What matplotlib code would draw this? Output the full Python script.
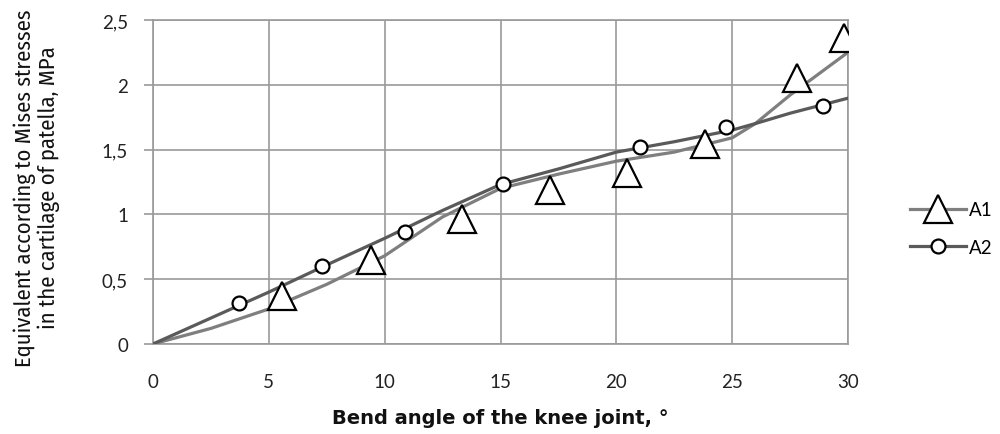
import matplotlib
matplotlib.use("Agg")
import matplotlib.pyplot as plt
from matplotlib.lines import Line2D
from matplotlib import font_manager

# Smooth curve values
line_x = [0, 2.5, 5, 7.5, 10, 12.5, 15, 17.5, 20, 22.5, 25, 26, 27.5, 30]
a1_line = [0, 0.12, 0.27, 0.46, 0.68, 0.98, 1.20, 1.31, 1.41, 1.48, 1.59, 1.70, 1.92, 2.25]
a2_line = [0, 0.20, 0.40, 0.61, 0.815, 1.03, 1.23, 1.35, 1.48, 1.56, 1.65, 1.70, 1.78, 1.896]

# Marker points
a1_x = [5.57, 9.40, 13.35, 17.15, 20.48, 23.84, 27.82, 29.81]
a1_y = [0.37, 0.648, 0.965, 1.188, 1.316, 1.539, 2.049, 2.361]
a2_x = [3.73, 7.29, 10.89, 15.11, 21.01, 24.75, 28.93]
a2_y = [0.316, 0.60, 0.867, 1.235, 1.518, 1.672, 1.839]

x_ticks = [0, 5, 10, 15, 20, 25, 30]
y_ticks = [0, 0.5, 1, 1.5, 2, 2.5]
y_tick_labels = ["0", "0,5", "1", "1,5", "2", "2,5"]

c1 = "#7f7f7f"
c2 = "#5a5a5a"

names = {f.name for f in font_manager.fontManager.ttflist}
ylab_font = next((n for n in ["Fira Sans Condensed", "IBM Plex Sans Condensed",
                              "Asap Condensed", "Archivo Narrow"] if n in names), "Open Sans")

fig = plt.figure(figsize=(10, 4.35), dpi=100)
ax = fig.add_axes([0.153, 0.207, 0.695, 0.745])

ax.plot(line_x, a1_line, color=c1, lw=2.3, zorder=3)
ax.plot(line_x, a2_line, color=c2, lw=2.3, zorder=3)
ax.plot(a1_x, a1_y, ls="none", marker="^", ms=20, mfc="white", mec="black", mew=1.6, zorder=4)
ax.plot(a2_x, a2_y, ls="none", marker="o", ms=10, mfc="white", mec="black", mew=1.6, zorder=4)

ax.set_xlim(0, 30)
ax.set_ylim(0, 2.5)
ax.set_xticks(x_ticks)
ax.set_yticks(y_ticks)
ax.set_yticklabels(y_tick_labels)
ax.grid(True, color="#9a9a9a", lw=1.2)
ax.set_axisbelow(True)
for s in ax.spines.values():
    s.set_color("#9a9a9a")
    s.set_linewidth(1.2)
ax.tick_params(axis="y", length=6.5, width=1.2, color="#9a9a9a", pad=11.5, labelsize=13.5, labelcolor="#222222")
ax.tick_params(axis="x", length=0, pad=21, labelsize=13.5, labelcolor="#222222")
for lab in ax.get_xticklabels() + ax.get_yticklabels():
    lab.set_family("Lato")

ax.set_xlabel("Bend angle of the knee joint, °", fontsize=14, fontweight="bold",
              family="DejaVu Sans", labelpad=13, color="#111111")
fig.text(0.0365, 0.568, "Equivalent according to Mises stresses\nin the cartilage of patella, MPa",
         rotation=90, ha="center", va="center", fontsize=16.3, family=ylab_font,
         linespacing=1.08, color="#111111")

handles = [
    Line2D([], [], color=c1, lw=2.3, marker="^", ms=20, mfc="white", mec="black", mew=1.6),
    Line2D([], [], color=c2, lw=2.3, marker="o", ms=10, mfc="white", mec="black", mew=1.6),
]
fig.legend(handles, ["A1", "A2"], loc="center left", bbox_to_anchor=(0.893, 0.472),
           frameon=False, handlelength=3.0, handletextpad=0.15, labelspacing=1.1,
           prop={"family": "Lato", "size": 13.5})

fig.savefig("out.png", dpi=100)
